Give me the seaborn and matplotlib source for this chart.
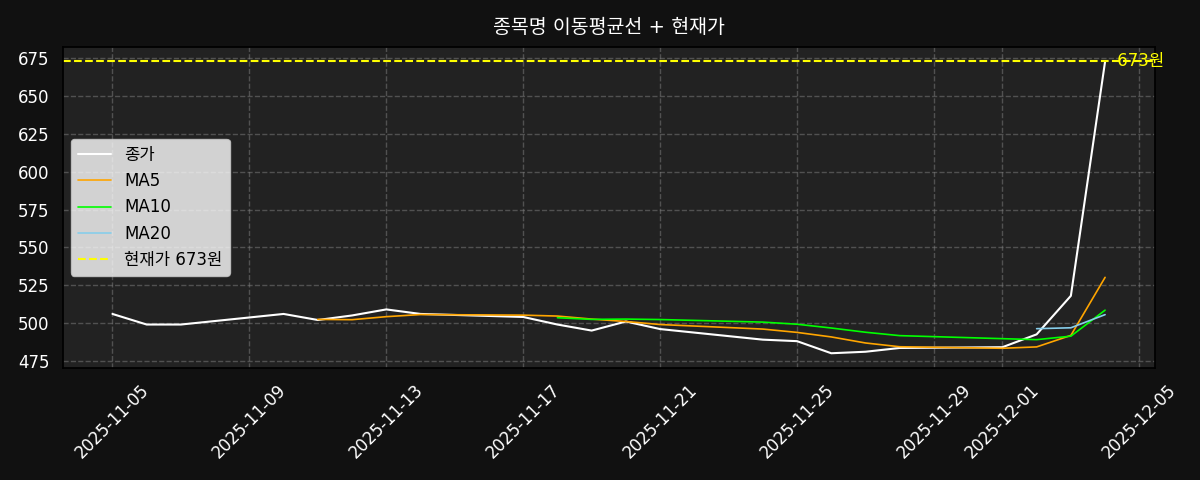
import pandas as pd
import numpy as np
import seaborn as sns
import matplotlib.pyplot as plt

# trading days and closing prices
dates = ['2025-11-05', '2025-11-06', '2025-11-07', '2025-11-10', '2025-11-11',
         '2025-11-12', '2025-11-13', '2025-11-14', '2025-11-17', '2025-11-18',
         '2025-11-19', '2025-11-20', '2025-11-21', '2025-11-24', '2025-11-25',
         '2025-11-26', '2025-11-27', '2025-11-28', '2025-12-01', '2025-12-02',
         '2025-12-03', '2025-12-04']
closes = [506, 499, 499, 506, 502,
          505, 509, 506, 504, 499,
          495, 501, 496, 489, 488,
          480, 481, 483.5, 484, 492.5,
          518, 673]
current_price = 673

title = '종목명 이동평균선 + 현재가'
close_label = '종가'
current_label = f'현재가 {current_price}원'

df = pd.DataFrame({'date': pd.to_datetime(dates), 'close': closes})
df['MA5'] = df['close'].rolling(5).mean()
df['MA10'] = df['close'].rolling(10).mean()
df['MA20'] = df['close'].rolling(20).mean()

sns.set_theme(style='dark', rc={
    'figure.facecolor': '#111111',
    'axes.facecolor': '#222222',
    'axes.edgecolor': '#000000',
    'xtick.color': 'white',
    'ytick.color': 'white',
    'text.color': 'white',
})
plt.rcParams['font.family'] = ['DejaVu Sans', 'Noto Sans CJK KR']

fig, ax = plt.subplots(figsize=(12, 4.8), dpi=100)

sns.lineplot(data=df, x='date', y='close', color='white', linewidth=1.5, label=close_label, ax=ax)
sns.lineplot(data=df, x='date', y='MA5', color='orange', linewidth=1.2, label='MA5', ax=ax)
sns.lineplot(data=df, x='date', y='MA10', color='lime', linewidth=1.2, label='MA10', ax=ax)
sns.lineplot(data=df, x='date', y='MA20', color='skyblue', linewidth=1.2, label='MA20', ax=ax)
ax.axhline(current_price, color='yellow', linestyle='--', linewidth=1.5, label=current_label)
ax.text(df['date'].iloc[-1] + pd.Timedelta(hours=4.5), current_price, f' {current_price}원',
        color='yellow', fontsize=12, va='center')

ax.set_title(title, fontsize=14, color='white', pad=10)
ax.set_xlabel('')
ax.set_ylabel('')
ax.tick_params(axis='both', labelsize=12, colors='white')
plt.setp(ax.get_xticklabels(), rotation=45)
ax.grid(True, color='gray', linestyle='--', linewidth=1, alpha=0.5)

leg = ax.legend(loc='center left', fontsize=12, facecolor='white', framealpha=0.8)
for t in leg.get_texts():
    t.set_color('black')

plt.tight_layout()
plt.savefig('out.png', dpi=100, facecolor=fig.get_facecolor())
